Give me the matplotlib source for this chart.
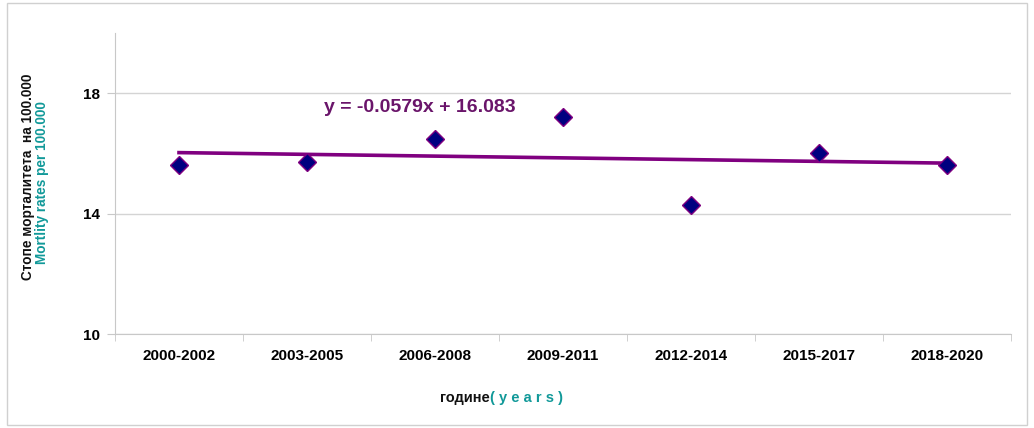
import numpy as np
import matplotlib
matplotlib.use("Agg")
import matplotlib.pyplot as plt
from matplotlib.patches import Rectangle

plt.rcParams["font.family"] = ["Liberation Sans", "DejaVu Sans"]

periods = ["2000-2002", "2003-2005", "2006-2008", "2009-2011",
           "2012-2014", "2015-2017", "2018-2020"]
rates = [15.63, 15.73, 16.47, 17.20, 14.30, 16.00, 15.63]
y_ticks = [10, 14, 18]
equation = "y = -0.0579x + 16.083"

grey = "#c8c8c8"
teal = "#119999"
purple = "#800080"

fig = plt.figure(figsize=(10.34, 4.28), dpi=100)
fig.patches.append(Rectangle((7 / 1034, 3 / 428), 1020 / 1034, 422 / 428,
                             transform=fig.transFigure, fill=False,
                             edgecolor="#d0d0d0", linewidth=1))
ax = fig.add_axes([115 / 1034, 94 / 428, 896 / 1034, 301 / 428])

x = np.arange(len(periods))

# linear trend (Excel numbers x from 1)
slope, intercept = np.polyfit(x + 1, rates, 1)
ax.plot(x, slope * (x + 1) + intercept, color=purple, linewidth=2.6, zorder=2)

ax.plot(x, rates, linestyle="none", marker="D", markersize=9.5,
        markerfacecolor="#000080", markeredgecolor=purple,
        markeredgewidth=1.0, zorder=3)

ax.text(1.88, 17.53, equation, color="#6a156a", fontsize=14,
        fontweight="bold", ha="center", va="center")

ax.set_xlim(-0.5, len(periods) - 0.5)
ax.set_ylim(10, 20)
ax.set_yticks(y_ticks)
ax.set_yticklabels([str(t) for t in y_ticks], fontweight="bold", fontsize=11)
ax.grid(axis="y", color="#d4d4d4", linewidth=1)
ax.set_axisbelow(True)

ax.set_xticks(x)
ax.set_xticklabels(periods, fontweight="bold", fontsize=11)
ax.set_xticks(np.arange(len(periods) + 1) - 0.5, minor=True)
ax.tick_params(axis="x", which="major", length=0, pad=11)
ax.tick_params(axis="x", which="minor", length=5, color=grey)
ax.tick_params(axis="y", length=6, color=grey, pad=5)

for side in ["top", "right"]:
    ax.spines[side].set_visible(False)
for side in ["left", "bottom"]:
    ax.spines[side].set_color(grey)

# y label, two lines in two colours
fig.text(28 / 1034, 251 / 428, "Стопе морталитета  на 100.000", rotation=90,
         ha="center", va="center", fontsize=9.8, fontweight="bold", color="#111111")
fig.text(42 / 1034, 245 / 428, "Mortlity rates per 100.000", rotation=90,
         ha="center", va="center", fontsize=9.8, fontweight="bold", color=teal)

# x label
fig.text(490 / 1034, 30 / 428, "године", ha="right", va="center",
         fontsize=10.5, fontweight="bold", color="#111111")
fig.text(490 / 1034, 30 / 428, "( y e a r s )", ha="left", va="center",
         fontsize=10.5, fontweight="bold", color=teal)

fig.savefig("out.png", dpi=100)
